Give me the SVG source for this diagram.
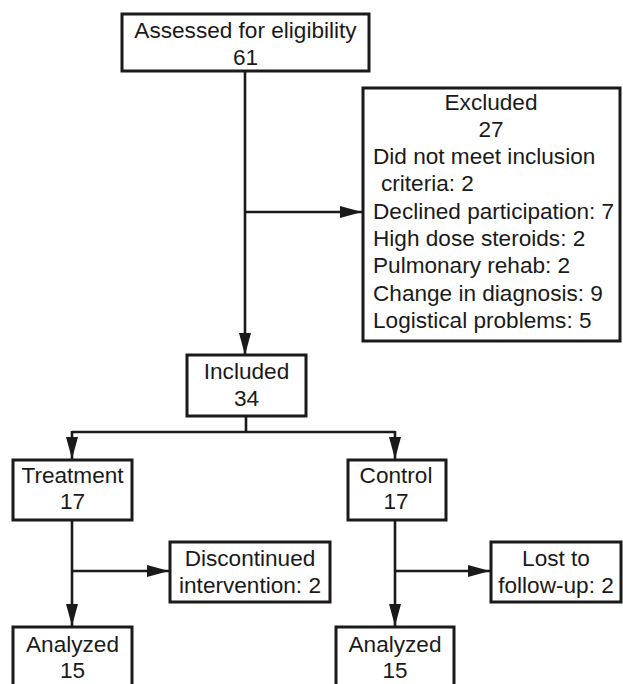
<svg xmlns="http://www.w3.org/2000/svg" width="623" height="684" viewBox="0 0 623 684">
<style>
.box{fill:#fff;stroke:#1a1a1a;stroke-width:3}
.t{font-family:"Liberation Sans",Arial,sans-serif;font-size:22.6px;fill:#1a1a1a}
.c{text-anchor:middle}
.ln{stroke:#1a1a1a;stroke-width:2.6;fill:none}
</style>
<defs>
<marker id="ah" markerUnits="userSpaceOnUse" markerWidth="22" markerHeight="12" refX="22" refY="6" orient="auto">
<path d="M0,0 L22,6 L0,12 z" fill="#1a1a1a"/>
</marker>
</defs>
<rect width="623" height="684" fill="#fff"/>
<g id="connectors">
<line class="ln" x1="245" y1="71" x2="245" y2="355" marker-end="url(#ah)"/>
<line class="ln" x1="245" y1="212" x2="362" y2="212" marker-end="url(#ah)"/>
<polyline class="ln" points="246,416 246,432"/>
<polyline class="ln" points="72,432 395,432"/>
<line class="ln" x1="72" y1="431" x2="72" y2="459" marker-end="url(#ah)"/>
<line class="ln" x1="395" y1="431" x2="395" y2="459" marker-end="url(#ah)"/>
<line class="ln" x1="72" y1="520" x2="72" y2="626" marker-end="url(#ah)"/>
<line class="ln" x1="72" y1="571" x2="169" y2="571" marker-end="url(#ah)"/>
<line class="ln" x1="395" y1="520" x2="395" y2="626" marker-end="url(#ah)"/>
<line class="ln" x1="395" y1="571" x2="490" y2="571" marker-end="url(#ah)"/>
</g>
<g id="assessed">
<rect class="box" x="122" y="14" width="247" height="57"/>
<text class="t c" x="245.5" y="38">Assessed for eligibility</text>
<text class="t c" x="245.5" y="65">61</text>
</g>
<g id="excluded">
<rect class="box" x="363" y="88" width="257" height="253"/>
<text class="t c" x="491" y="110">Excluded</text>
<text class="t c" x="491" y="137">27</text>
<text class="t" x="373" y="164">Did not meet inclusion</text>
<text class="t" x="381" y="191">criteria: 2</text>
<text class="t" x="373" y="219">Declined participation: 7</text>
<text class="t" x="373" y="246">High dose steroids: 2</text>
<text class="t" x="373" y="273">Pulmonary rehab: 2</text>
<text class="t" x="373" y="301">Change in diagnosis: 9</text>
<text class="t" x="373" y="328">Logistical problems: 5</text>
</g>
<g id="included">
<rect class="box" x="187" y="355" width="119" height="61"/>
<text class="t c" x="246.5" y="379">Included</text>
<text class="t c" x="246.5" y="406">34</text>
</g>
<g id="treatment">
<rect class="box" x="13" y="460" width="119" height="60"/>
<text class="t c" x="72.5" y="483">Treatment</text>
<text class="t c" x="72.5" y="509">17</text>
</g>
<g id="control">
<rect class="box" x="348" y="460" width="98" height="60"/>
<text class="t c" x="396" y="483">Control</text>
<text class="t c" x="396" y="509">17</text>
</g>
<g id="discontinued">
<rect class="box" x="170" y="542" width="160" height="60"/>
<text class="t c" x="250" y="566">Discontinued</text>
<text class="t c" x="250" y="593">intervention: 2</text>
</g>
<g id="lost">
<rect class="box" x="491" y="542" width="130" height="60"/>
<text class="t c" x="556" y="566">Lost to</text>
<text class="t c" x="556" y="593">follow-up: 2</text>
</g>
<g id="analyzed-treatment">
<rect class="box" x="13" y="627" width="119" height="70"/>
<text class="t c" x="72.5" y="652">Analyzed</text>
<text class="t c" x="72.5" y="678">15</text>
</g>
<g id="analyzed-control">
<rect class="box" x="336" y="627" width="118" height="70"/>
<text class="t c" x="395" y="652">Analyzed</text>
<text class="t c" x="395" y="678">15</text>
</g>
</svg>
